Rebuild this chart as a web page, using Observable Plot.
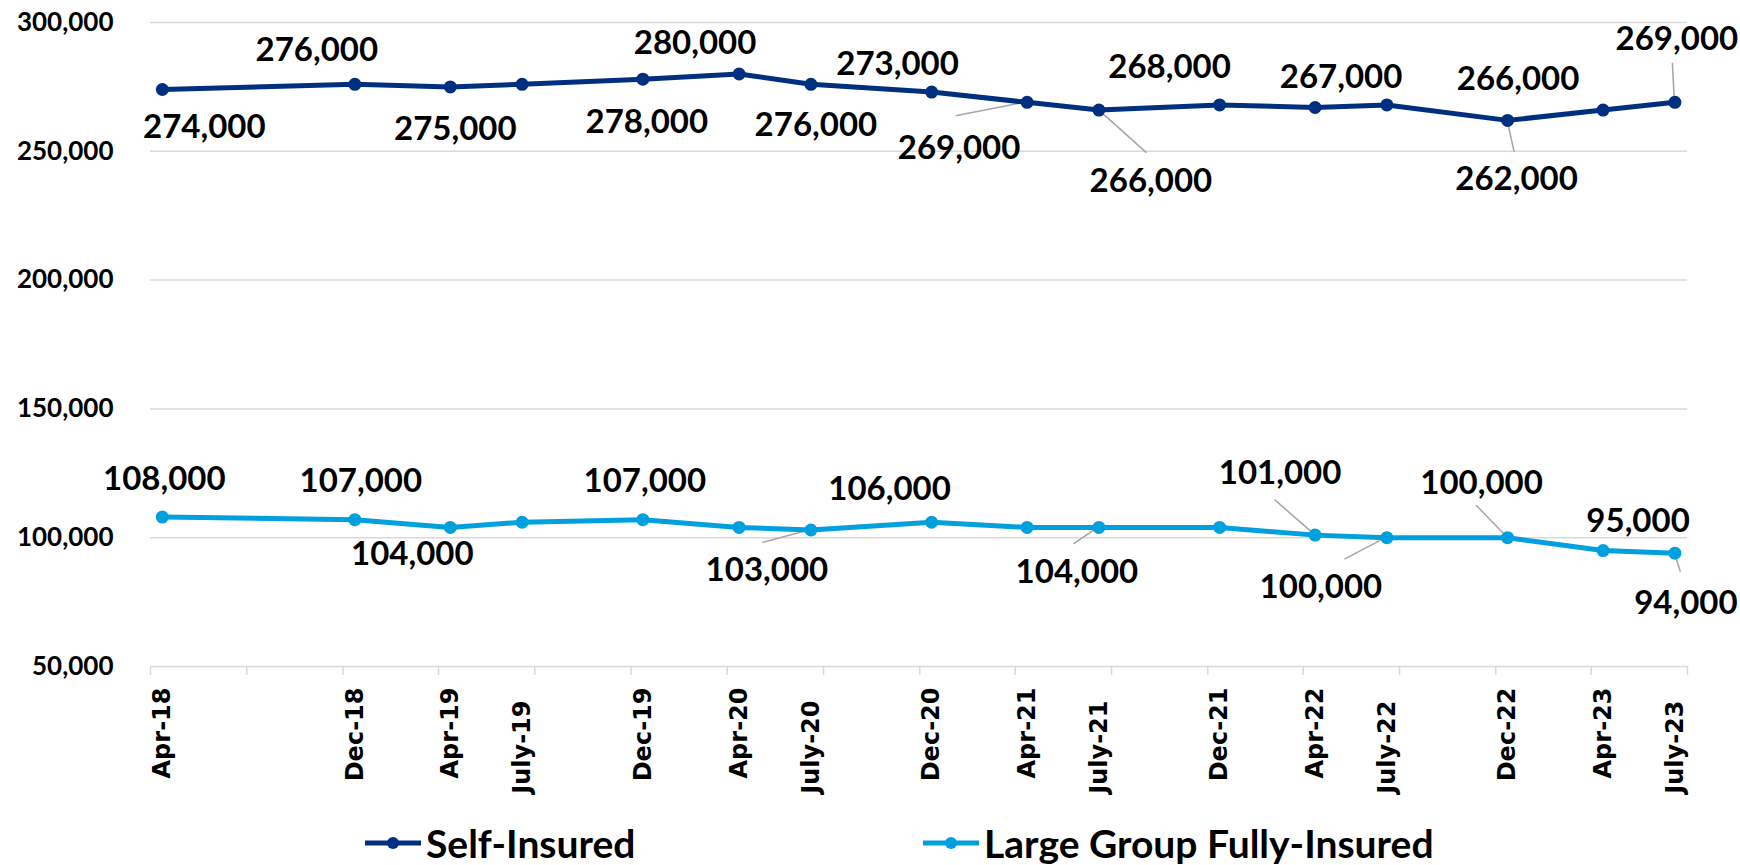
<!DOCTYPE html>
<html><head><meta charset="utf-8">
<script src="https://cdn.jsdelivr.net/npm/d3@7"></script>
<script src="https://cdn.jsdelivr.net/npm/@observablehq/plot@0.6"></script>
<style>
body{margin:0;background:#fff;}
#chart svg{display:block;}
#legend{position:relative;height:50px;font-family:Lato,sans-serif;font-weight:700;font-size:39px;color:#000;}
#legend .item{position:absolute;top:0;height:50px;display:flex;align-items:center;white-space:nowrap;}
#legend svg{margin-right:5px;}
</style></head><body><div id="chart"></div><div id="legend"></div>
<script>
// ---- data ----
const months = ["2018-04","2018-12","2019-04","2019-07","2019-12","2020-04","2020-07","2020-12","2021-04","2021-07","2021-12","2022-04","2022-07","2022-12","2023-04","2023-07"];
const tickLabels = ["Apr-18","Dec-18","Apr-19","July-19","Dec-19","Apr-20","July-20","Dec-20","Apr-21","July-21","Dec-21","Apr-22","July-22","Dec-22","Apr-23","July-23"];
const selfInsured = [274000,276000,275000,276000,278000,280000,276000,273000,269000,266000,268000,267000,268000,262000,266000,269000];
const largeGroup = [108000,107000,104000,106000,107000,104000,103000,106000,104000,104000,104000,101000,100000,100000,95000,94000];
const seriesNames = ["Self-Insured","Large Group Fully-Insured"];
const seriesColors = ["#012f7f","#00a0df"];
const yTicks = [50000,100000,150000,200000,250000,300000];
const xDomain = ["2018-04-01","2023-08-01"];

// ---- label placement (pixel offsets from the point; null = unlabeled) ----
const selfLabelOffsets = [[42,38],[-38,-34],[5,43],null,[4,43],[-44,-31],[5,41],[-34,-28],[-68,46],[52,71],[-50,-37],[26,-30],null,[9,59],[-85,-31],[2,-63]];
const selfLeaderOffsets = [null,null,null,null,null,null,null,null,[-71,14],[48,43],null,null,null,[7,32],null,[-2,-39]];
const largeLabelOffsets = [[2,-38],[6,-38],[-38,27],null,[2,-38],null,[-44,40],[-42,-33],null,[-22,45],null,[-35,-62],[-66,50],[-26,-54],[35,-29],[11,50]];
const largeLeaderOffsets = [null,null,null,null,null,null,[-48,13],null,null,[-25,17],null,[-40,-35],[-42,22],[-31,-32],null,[6,19]];

const parseMonth = s => { const [y,m] = s.split("-").map(Number); return new Date(Date.UTC(y, m-1, 16)); };
const dates = months.map(parseMonth);
const tickDates = d3.utcMonth.range(new Date(xDomain[0]), d3.utcDay.offset(new Date(xDomain[1]),1), 4);
const fmt = d3.format(",");
const idx = d3.range(months.length);
const isJuly = i => tickLabels[i].startsWith("July");

function leaderMark(values, offs){
  return (index, scales) => {
    const g = d3.create("svg:g").attr("stroke","#a6a6a6").attr("stroke-width",1.5).attr("fill","none");
    values.forEach((v,i)=>{
      const o = offs[i]; if(!o) return;
      const px = scales.x(dates[i]), py = scales.y(v);
      g.append("line").attr("x1",px).attr("y1",py).attr("x2",px+o[0]).attr("y2",py+o[1]);
    });
    return g.node();
  };
}
function labelMarks(values, offs){
  return idx.filter(i => offs[i]).map(i => Plot.text([i], {
    x: j => dates[j], y: j => values[j], text: j => fmt(values[j]),
    dx: offs[i][0], dy: offs[i][1],
    fontFamily: "Lato", fontWeight: 700, fontSize: 33, fill: "#000",
    textAnchor: "middle", lineAnchor: "middle"
  }));
}
const xLabelStyle = {fontFamily: "'DejaVu Sans', Verdana, sans-serif", fontWeight: 700, fontSize: 24, fill: "#000",
  rotate: -90, textAnchor: "end", lineAnchor: "middle", frameAnchor: "bottom"};

const chart = Plot.plot({
  width: 1740, height: 818,
  marginLeft: 150, marginRight: 53, marginTop: 22, marginBottom: 152,
  style: {background: "#fff"},
  x: {type: "utc", domain: xDomain.map(d => new Date(d)), axis: null},
  y: {type: "linear", domain: [50000, 300000], axis: null},
  marks: [
    Plot.gridY(yTicks, {stroke: "#d9d9d9", strokeOpacity: 1, strokeWidth: 1.5}),
    Plot.axisY({ticks: yTicks, tickSize: 0, tickPadding: 37, tickFormat: fmt,
      fontFamily: "Lato", fontWeight: 700, fontSize: 26, fill: "#000"}),
    Plot.ruleX(tickDates, {x: d => d, y1: 50000, y2: 50000, insetBottom: -9, stroke: "#d9d9d9", strokeWidth: 1.5}),
    Plot.text(idx.filter(i => !isJuly(i)), {x: i => dates[i], text: i => tickLabels[i], dy: 21, ...xLabelStyle}),
    Plot.text(idx.filter(isJuly), {x: i => dates[i], text: i => tickLabels[i], dy: 34, ...xLabelStyle}),
    leaderMark(selfInsured, selfLeaderOffsets),
    leaderMark(largeGroup, largeLeaderOffsets),
    Plot.line(idx, {x: i => dates[i], y: i => selfInsured[i], stroke: seriesColors[0], strokeWidth: 5}),
    Plot.dot(idx, {x: i => dates[i], y: i => selfInsured[i], fill: seriesColors[0], r: 6.5, stroke: null}),
    Plot.line(idx, {x: i => dates[i], y: i => largeGroup[i], stroke: seriesColors[1], strokeWidth: 5}),
    Plot.dot(idx, {x: i => dates[i], y: i => largeGroup[i], fill: seriesColors[1], r: 6.5, stroke: null}),
    ...labelMarks(selfInsured, selfLabelOffsets),
    ...labelMarks(largeGroup, largeLabelOffsets)
  ]
});
document.getElementById("chart").appendChild(chart);

const legendLefts = [365, 923];
const legend = document.getElementById("legend");
seriesNames.forEach((name, k) => {
  const item = document.createElement("div");
  item.className = "item";
  item.style.left = legendLefts[k] + "px";
  item.innerHTML = `<svg width="56" height="16"><line x1="0" y1="8" x2="56" y2="8" stroke="${seriesColors[k]}" stroke-width="5"/><circle cx="28" cy="8" r="6" fill="${seriesColors[k]}"/></svg><span>${name}</span>`;
  legend.appendChild(item);
});
</script></body></html>
